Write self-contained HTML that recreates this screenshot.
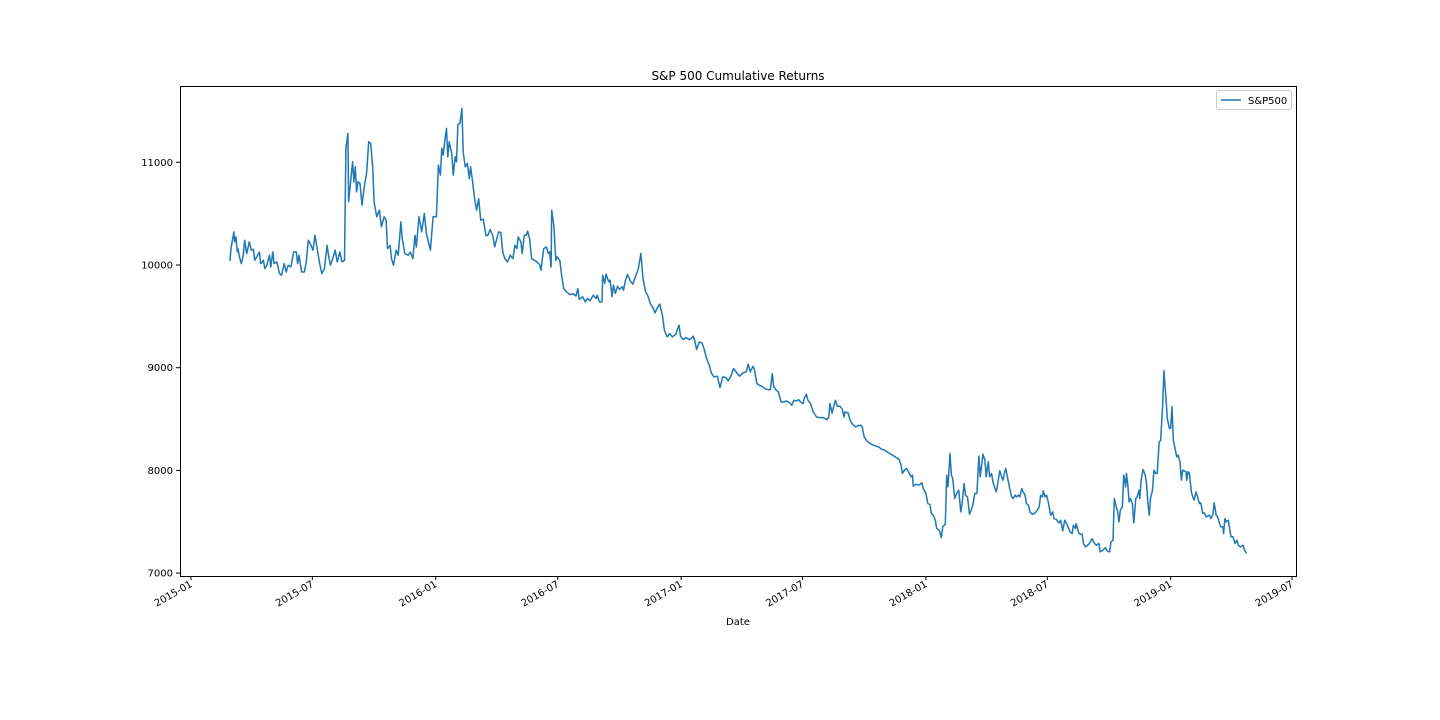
<!DOCTYPE html>
<html><head><meta charset="utf-8"><style>
html,body{margin:0;padding:0;background:#fff;}
svg{display:block;font-family:"DejaVu Sans","Liberation Sans",sans-serif;}
</style></head><body>
<svg id="chart" width="1440" height="720" viewBox="0 0 1440 720">
<rect x="0" y="0" width="1440" height="720" fill="#fff"/>
<text x="738" y="80" font-size="12" text-anchor="middle" fill="#000">S&amp;P 500 Cumulative Returns</text>
<g id="yaxis"></g>
<g id="xaxis"></g>
<path id="line" fill="none" stroke="#1f77b4" stroke-width="1.5" stroke-linejoin="round"/>
<rect x="180.5" y="86.5" width="1116" height="490" fill="none" stroke="#000" stroke-width="1"/>
<text x="738" y="625" font-size="10" text-anchor="middle" fill="#000">Date</text>
<g>
<rect x="1216.5" y="90.5" width="75" height="19" rx="2" fill="#fff" stroke="#ccc"/>
<line x1="1221" y1="100" x2="1241" y2="100" stroke="#1f77b4" stroke-width="1.5"/>
<text x="1248" y="104" font-size="10" fill="#000">S&amp;P500</text>
</g>
</svg>
<script>
// days since 2015-01-01
const days=[58,60,64,65,67,69,70,73,75,78,80,83,87,90,93,95,98,102,104,108,110,113,117,119,122,124,128,132,135,139,142,145,149,153,157,159,161,165,169,172,175,179,182,185,189,192,195,199,203,205,208,212,215,218,222,225,229,231,234,235,238,241,243,245,247,249,252,255,258,262,265,268,271,273,277,281,284,288,291,293,297,299,302,306,309,313,315,319,324,327,331,334,336,340,344,348,351,354,357,361,366,369,372,374,376,379,381,383,385,389,391,394,396,398,401,404,406,409,412,415,417,420,423,426,429,432,436,440,443,446,450,453,456,459,462,465,468,472,476,480,483,486,488,492,494,497,500,502,505,508,512,516,520,522,526,530,533,535,537,538,541,544,546,550,553,556,560,565,570,574,577,579,
584,588,591,595,600,604,606,609,613,614,617,619,623,625,628,630,633,636,639,643,645,648,651,655,659,663,667,671,674,678,681,685,689,692,695,699,703,706,710,714,718,723,725,728,730,734,738,743,746,749,751,754,758,762,765,769,773,776,780,785,789,793,798,801,805,809,813,818,823,828,831,834,838,840,844,848,853,856,860,864,867,869,873,876,880,884,888,893,896,899,903,906,909,913,915,918,920,924,928,933,938,943,948,951,953,956,959,961,964,968,971,974,975,980,983,986,991,995,999,1001,1004,1008,1013,1018,1023,1026,1029,1033,
1056,1059,1061,1064,1067,1070,1074,1076,1077,1081,1086,1090,1092,1096,1099,1102,1104,1107,1110,1112,1116,1119,1121,1125,1127,1129,1132,1134,1136,1139,1142,1145,1148,1150,1153,1155,1158,1161,1164,1166,1169,1172,1175,1177,1179,1181,1184,1186,1189,1191,1194,1196,1199,1201,1204,1206,1209,1211,1213,1215,1219,1221,1224,1226,1229,1231,1234,1236,1239,1241,1244,1246,1249,1251,1255,1259,1262,1265,1267,1270,1271,1274,1276,1279,1282,1285,1287,1291,1294,1297,1300,1303,1306,1309,1311,1314,1316,1319,1320,1324,1326,1329,1331,1334,1339,1344,1346,1350,1354,1356,1360,1364,1366,1370,1372,1375,1377,1380,1382,1384,1386,1389,1391,1394,1395,1397,1399,1401,1404,1406,1409,1411,1414,1415,1417,1420,1423,1425,1427,1429,1431,1434,1436,1439,1441,1444,1446,1449,1451,1454,1456,1459,1461,1463,1465,1467,1470,1472,1475,1477,1479,1481,1484,1485,1487,1489,1492,1494,1496,1499,1501,1504,1506,1509,1511,1514,1516,1519,1521,1524,1526,1529,1531,1534,1536,1539,1540,1542,1544,1547,1549,1551,1554,1557,1560,1562,1565,1569,1571,1574];
const values=[10040,10176,10322,10225,10274,10127,10160,10062,10014,10095,10241,10111,10225,10144,10153,10046,10079,10127,10014,10046,9965,9997,10095,9981,10127,10014,10030,9916,9900,10014,9932,9997,9981,10127,10127,10014,10095,9932,9932,10030,10241,10192,10144,10290,10127,10014,9916,9965,10192,10095,9997,10079,10144,10030,10127,10030,10046,11135,11281,10615,10810,11005,10810,10956,10712,10810,10794,10582,10745,10907,11200,11184,10956,10615,10469,10534,10371,10469,10436,10160,10192,10062,9997,10144,10095,10420,10257,10111,10095,10127,10062,10290,10176,10469,10322,10501,10306,10225,10144,10469,10469,10972,10875,11135,11070,11232,11330,11054,11200,11086,10875,11054,11005,11369,11379,11525,11102,10956,10989,10842,10956,10810,10647,10534,10647,10436,10446,10284,10290,10345,10290,10176,10257,10322,10316,10127,10062,10030,10095,10062,10192,10160,10274,10225,10111,10290,10290,10329,10257,10062,10046,10030,10004,9949,10160,10176,10111,10127,9981,10534,10388,10046,10079,10046,9884,9770,9738,9712,9721,9698,9770,9666,
9690,9641,9674,9651,9706,9674,9706,9641,9641,9901,9820,9911,9836,9853,9690,9804,9723,9794,9762,9788,9755,9853,9908,9846,9814,9892,9957,10113,9875,9739,9706,9625,9583,9534,9576,9619,9511,9365,9300,9333,9300,9326,9365,9414,9307,9274,9294,9274,9284,9307,9268,9177,9251,9242,9186,9089,9024,8949,8910,8917,8806,8910,8904,8871,8917,8991,8959,8917,8949,8959,9034,8959,9014,8991,8845,8829,8813,8796,8787,8787,8943,8813,8780,8764,8666,8666,8676,8657,8634,8683,8676,8689,8666,8650,8709,8741,8683,8650,8569,8520,8514,8514,8494,8520,8650,8559,8634,8683,8624,8624,8601,8520,8569,8559,8488,8455,8423,8436,8439,8423,8325,8286,8260,8244,8234,8228,8208,8202,
8107,8051,7970,8002,8019,7986,7938,7954,7846,7866,7856,7879,7824,7775,7677,7671,7580,7564,7515,7434,7418,7346,7450,7476,7954,7840,8165,7954,7921,7726,7775,7808,7596,7677,7872,7759,7742,7573,7619,7661,7775,7775,8139,7938,8035,8158,8100,7938,8084,7938,7970,7889,7824,7791,7905,7996,7938,7905,7970,8019,7889,7824,7742,7726,7759,7742,7759,7742,7824,7791,7759,7677,7661,7596,7573,7586,7612,7645,7759,7742,7801,7742,7759,7677,7564,7596,7531,7521,7489,7515,7411,7515,7482,7434,7401,7385,7466,7434,7482,7392,7379,7379,7288,7255,7281,7336,7304,7271,7288,7206,7223,7249,7216,7206,7304,7320,7726,7645,7596,7499,7612,7645,7954,7840,7970,7872,7694,7726,7677,7489,7726,7742,7808,7726,7905,8009,7954,7872,7694,7564,7726,7808,8002,7970,7970,8279,8289,8620,8971,8718,8506,8409,8409,8620,8295,8230,8132,8149,8084,7905,8002,7996,7986,7905,7986,7970,7791,7742,7710,7791,7742,7677,7684,7580,7586,7548,7554,7564,7531,7573,7684,7564,7548,7482,7450,7450,7385,7531,7499,7515,7434,7353,7353,7288,7320,7271,7255,7271,7229,7190];
const yTicks=[7000,8000,9000,10000,11000];
const xTickLabels=["2015-01","2015-07","2016-01","2016-07","2017-01","2017-07","2018-01","2018-07","2019-01","2019-07"];
const xTickDays=[0,181,365,547,731,912,1096,1277,1461,1642];

function xs(d){return 191+d*(1101/1642);}
function ys(v){return 265-(v-10000)*0.1027;}
const NS="http://www.w3.org/2000/svg";
const n=Math.min(days.length,values.length);
let dstr="";
for(let i=0;i<n;i++){dstr+=(i?"L":"M")+xs(days[i]).toFixed(1)+","+ys(values[i]).toFixed(1);}
document.getElementById("line").setAttribute("d",dstr);

const ya=document.getElementById("yaxis");
yTicks.forEach(v=>{
  const y=ys(v);
  const t=document.createElementNS(NS,"line");
  
  
  t.setAttribute("x1",176);t.setAttribute("x2",180);t.setAttribute("y1",y);t.setAttribute("y2",y);t.setAttribute("stroke","#000");
  ya.appendChild(t);
  const l=document.createElementNS(NS,"text");
  
  
  l.setAttribute("x",173);l.setAttribute("y",y+3.5);l.setAttribute("font-size","10");l.setAttribute("text-anchor","end");
  l.textContent=v;ya.appendChild(l);
});
const xa=document.getElementById("xaxis");
xTickLabels.forEach((lab,i)=>{
  const x=xs(xTickDays[i]);
  const t=document.createElementNS(NS,"line");
  
  
  t.setAttribute("x1",x);t.setAttribute("x2",x);t.setAttribute("y1",576);t.setAttribute("y2",580);t.setAttribute("stroke","#000");
  xa.appendChild(t);
  const l=document.createElementNS(NS,"text");
  
  
  l.setAttribute("font-size","10");l.setAttribute("text-anchor","end");
  l.setAttribute("transform","translate("+(x+2)+",586) rotate(-30)");
  l.textContent=lab;xa.appendChild(l);
});
</script>
</body></html>
